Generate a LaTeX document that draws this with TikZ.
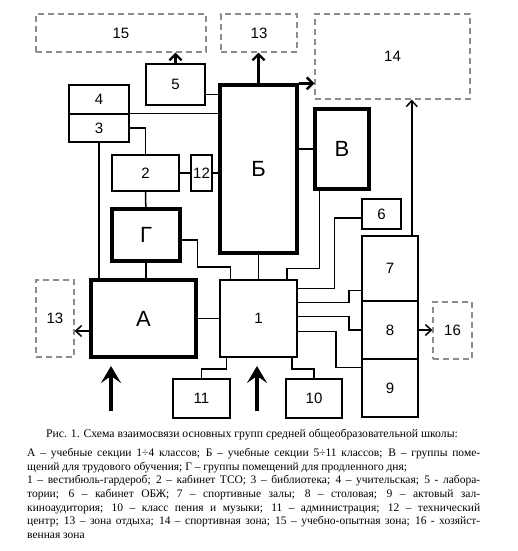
\documentclass[tikz,border=0pt]{standalone}
\usepackage{fontspec}
\setmainfont{Liberation Serif}
\newfontfamily\diagfont{Liberation Sans}
\usetikzlibrary{arrows.meta}
\definecolor{zonegray}{RGB}{140,140,140}

\begin{document}
\begin{tikzpicture}[x=1pt, y=-1pt,
    room/.style={draw, line width=1.5pt, inner sep=0pt,
                font=\diagfont\fontsize{15}{15}\selectfont},
    group/.style={draw, line width=3.2pt, inner sep=0pt,
                font=\diagfont\fontsize{22}{22}\selectfont},
    zone/.style={draw=zonegray, line width=1.2pt,
                dash pattern=on 6pt off 4pt, inner sep=0pt,
                font=\diagfont\fontsize{15}{15}\selectfont},
    link/.style={line width=1.5pt},
    arr/.style={-{Straight Barb[length=6pt, width=11pt]}, line width=1.5pt},
    arrbold/.style={-{Straight Barb[length=6pt, width=12pt]}, line width=2.4pt},
    entry/.style={-{Stealth[length=17pt, width=20pt, inset=7pt]}, line width=4pt},
  ]
    \useasboundingbox (0,0) rectangle (517,551);

    % Outdoor zones
    \node[zone, minimum width=170, minimum height=38] (z15)  at (121,33)    {15};
    \node[zone, minimum width=76,  minimum height=38] (z13a) at (259,33)    {13};
    \node[zone, minimum width=155, minimum height=85] (z14)  at (392.5,56.5) {14};
    \node[zone, minimum width=38,  minimum height=77] (z13b) at (55,318.5)  {13};
    \node[zone, minimum width=39,  minimum height=57] (z16)  at (452.5,330.5) {16};

    % Main groups
    \node[group, minimum width=77,  minimum height=168] (secB) at (258.5,169) {Б};
    \node[group, minimum width=54,  minimum height=80]  (grpV) at (342,149)   {В};
    \node[group, minimum width=68,  minimum height=52]  (grpG) at (146,235)   {Г};
    \node[group, minimum width=105, minimum height=77]  (secA) at (143.5,318.5) {А};

    % Rooms
    \node[room, minimum width=77, minimum height=77] (r1)  at (258.5,318.5) {1};
    \node[room, minimum width=67, minimum height=36] (r2)  at (145.5,173) {2};
    \node[room, minimum width=60, minimum height=28] (r3)  at (99,128)    {3};
    \node[room, minimum width=60, minimum height=29] (r4)  at (99,99.5)   {4};
    \node[room, minimum width=59, minimum height=41] (r5)  at (175.5,84.5) {5};
    \node[room, minimum width=39, minimum height=30] (r6)  at (381.5,214) {6};
    \node[room, minimum width=56, minimum height=65] (r7)  at (390,268.5) {7};
    \node[room, minimum width=56, minimum height=58] (r8)  at (390,330)   {8};
    \node[room, minimum width=56, minimum height=58] (r9)  at (390,388)   {9};
    \node[room, minimum width=56, minimum height=39] (r10) at (314,398.5) {10};
    \node[room, minimum width=57, minimum height=39] (r11) at (201.5,398.5) {11};
    \node[room, minimum width=21, minimum height=36] (r12) at (201.5,173) {12};

    % Entrances
    \coordinate (inA) at (111,411);
    \coordinate (in1) at (257,411);

    % Links around Б
    \draw[link] (r3.north east) -- (r3.north east -| secB.west);
    \draw[link] ([yshift=-10pt]r5.east) -- ([yshift=-10pt]r5.east -| secB.west);
    \draw[link] (r12.east) -- (r12.east -| secB.west);
    \draw[link] (secB.east |- grpV.west) -- (grpV.west);
    \draw[link] (secB) -- (r1);
    \draw[arrbold] (secB.north) -- (secB.north |- z13a.south);
    \draw[arrbold] (secB.north east) -- (secB.north east -| z14.west);
    \draw[arrbold] (r5.north) -- (r5.north |- z15.south);

    % Links on the left
    \draw[link] (r3.east) -| (r2.north);
    \draw[link] (r2) -- (r12);
    \draw[link] (r3.south) -- (r3.south |- secA.north);
    \draw[link] (r2) -- (grpG);
    \draw[link] (grpG.south) -- (grpG.south |- secA.north);
    \draw[link] ([yshift=-5pt]grpG.east) -- ++(16,0) -- ++(0,27)
                -| ([xshift=11pt]r1.north west);
    \draw[link] (secA) -- (r1);
    \draw[arr] ([yshift=-12.5pt]secA.west) -- ([yshift=-12.5pt]secA.west -| z13b.east);

    % Links on the right
    \draw[link] ([xshift=6pt]grpV.south west) -- ++(0,78)
                -| ([xshift=-11pt]r1.north east);
    \draw[link] ([yshift=-4pt]r6.west) -- ++(-27,0) |- ([yshift=-9pt]r1.north east);
    \draw[link] ([yshift=-23pt]r1.north east) -- ++(51,0) |- ([yshift=-55pt]r7.north west);
    \draw[link] ([yshift=-37pt]r1.north east) -- ++(51,0) |- (r8.west);
    \draw[link] ([yshift=-52pt]r1.north east) -- ++(38,0) |- ([yshift=-9pt]r9.north west);
    \draw[arr] ([xshift=-7pt]r7.north east) -- ([xshift=-7pt]r7.north east |- z14.south);
    \draw[arr] (r8.east) -- (r8.east -| z16.west);

    % Links below 1
    \draw[link] ([xshift=7pt]r1.south west) -- ++(0,11) -| (r11.north);
    \draw[link] ([xshift=-6pt]r1.south east) -- ++(0,11) -| (r10.north);
    \draw[entry] (inA) -- ++(0,-45);
    \draw[entry] (in1) -- ++(0,-45);

    % Caption
    \node[anchor=base, inner sep=0pt, font=\fontsize{11.7}{13.7}\selectfont]
      (capt) at (252,437)
      {Рис. 1. Схема взаимосвязи основных групп средней общеобразовательной школы:};
    \node[anchor=north west, inner sep=0pt, text width=453pt, align=justify,
          font=\fontsize{11.5}{13.7}\selectfont] (legend) at (27,448)
      {\hyphenpenalty=10000\exhyphenpenalty=10000
       А – учебные секции 1÷4 классов; Б – учебные секции 5÷11 классов; В – группы поме-\linebreak
       щений для трудового обучения; Г – группы помещений для продленного дня;\\
       1 – вестибюль-гардероб; 2 – кабинет ТСО; 3 – библиотека; 4 – учительская; 5 - лабора-\linebreak
       тории; 6 – кабинет ОБЖ; 7 – спортивные залы; 8 – столовая; 9 – актовый зал-\linebreak
       киноаудитория; 10 – класс пения и музыки; 11 – администрация; 12 – технический
       \linebreak центр; 13 – зона отдыха; 14 – спортивная зона; 15 – учебно-опытная зона; 16 - хозяйст-\linebreak
       венная зона};
  \end{tikzpicture}
\end{document}
